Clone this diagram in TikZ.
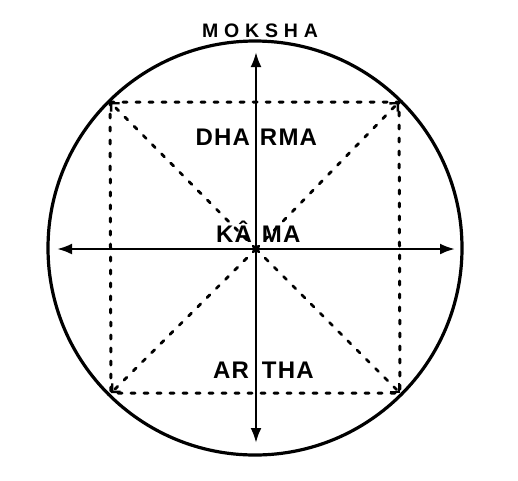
\documentclass[tikz,border=0pt]{standalone}
\usepackage{fontspec}
\usetikzlibrary{arrows.meta}
\newfontfamily\labfont[LetterSpace=5]{Liberation Sans}
\newfontfamily\topfont[LetterSpace=30]{Liberation Sans}
\tikzset{
  rim/.style={line width=3.2pt},
  axis/.style={line width=2.6pt, {Latex[length=15pt,width=11pt]}-{Latex[length=15pt,width=11pt]}},
  diag/.style={line width=2.8pt, line cap=round, dash pattern=on 4pt off 9pt, -{Straight Barb[length=6pt,width=12pt,line width=2.4pt]}},
  side/.style={line width=3pt, line cap=round, dash pattern=on 4pt off 9pt},
  lab/.style={inner sep=0pt, anchor=base, font=\labfont\bfseries\fontsize{24}{26}\selectfont},
}
\begin{document}
\begin{tikzpicture}[x=1pt,y=-1pt]
\useasboundingbox (0,0) rectangle (518,480);
\coordinate (C) at (255,248);
\coordinate (O) at (256,249);
\coordinate (TL) at (110,102);
\coordinate (TR) at (399,102);
\coordinate (BL) at (111,393);
\coordinate (BR) at (400,393);
\coordinate (N) at (256,52);
\coordinate (S) at (256,443);
\coordinate (W) at (57,249);
\coordinate (E) at (455,249);
% circle
\draw[rim] (C) circle[radius=207];
% dashed square
\draw[side] (TL) -- (TR) -- (BR) -- (BL) -- cycle;
% diagonals
\draw[diag] (O) -- (TL);
\draw[diag] (O) -- (TR);
\draw[diag] (O) -- (BL);
\draw[diag] (O) -- (BR);
% axes
\draw[axis] (N) -- (S);
\draw[axis] (W) -- (E);
\fill (O) circle[radius=3.5];
% labels
\node[lab, font=\topfont\bfseries\fontsize{19.5}{21}\selectfont] (moksha) at (260,37) {MOKSHA};
\node[lab] (dharma) at (255,145) {\makebox[0pt][r]{DHA\hspace{5pt}}\makebox[0pt][l]{\hspace{5pt}RMA}};
\node[lab] (kama) at (256,242) {\makebox[0pt][r]{KÂ\hspace{4pt}}\makebox[0pt][l]{\hspace{6pt}MA}};
\node[lab] (artha) at (256,378) {\makebox[0pt][r]{AR\hspace{7pt}}\makebox[0pt][l]{\hspace{6pt}THA}};
\end{tikzpicture}
\end{document}
